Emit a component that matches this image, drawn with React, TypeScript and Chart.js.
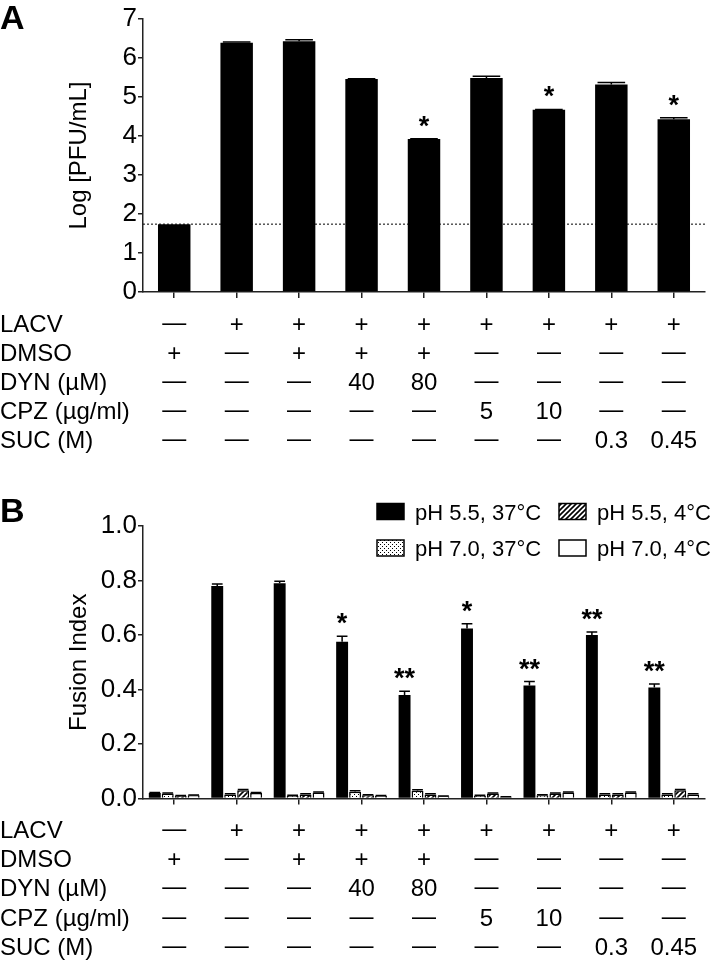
import React, { useEffect, useRef } from "react";
import { Chart, registerables } from "chart.js";

Chart.register(...registerables);

// ---------- data ----------
const categories = [
  "Mock+DMSO",
  "LACV",
  "LACV+DMSO",
  "LACV+DYN40",
  "LACV+DYN80",
  "LACV+CPZ5",
  "LACV+CPZ10",
  "LACV+SUC0.3",
  "LACV+SUC0.45",
];

// Panel A: Log [PFU/mL]
const pfuValues = [1.74, 6.39, 6.43, 5.46, 3.92, 5.49, 4.67, 5.32, 4.43];
const pfuErrors = [0, 0.02, 0.04, 0.01, 0.01, 0.04, 0.01, 0.05, 0.04];
const pfuStars = ["", "", "", "", "*", "", "*", "", "*"];
const detectionLimit = 1.74;
const pfuTicks = [0, 1, 2, 3, 4, 5, 6, 7];

// Panel B: Fusion Index
const fusionSeriesNames = ["pH 5.5, 37°C", "pH 7.0, 37°C", "pH 5.5, 4°C", "pH 7.0, 4°C"];
const fusion55at37 = [0.02, 0.78, 0.79, 0.575, 0.38, 0.624, 0.415, 0.6, 0.407];
const fusion55at37Err = [0.002, 0.007, 0.007, 0.02, 0.014, 0.017, 0.014, 0.011, 0.013];
const fusion70at37 = [0.018, 0.015, 0.01, 0.025, 0.028, 0.01, 0.012, 0.015, 0.015];
const fusion70at37Err = [0.002, 0.002, 0.002, 0.003, 0.004, 0.002, 0.002, 0.002, 0.002];
const fusion55at4 = [0.01, 0.03, 0.015, 0.012, 0.015, 0.018, 0.018, 0.015, 0.03];
const fusion55at4Err = [0.001, 0.003, 0.002, 0.002, 0.002, 0.002, 0.002, 0.002, 0.003];
const fusion70at4 = [0.012, 0.02, 0.022, 0.01, 0.008, 0.005, 0.022, 0.022, 0.015];
const fusion70at4Err = [0.001, 0.002, 0.002, 0.001, 0.001, 0.001, 0.002, 0.002, 0.002];
const fusionStars = ["", "", "", "*", "**", "*", "**", "**", "**"];
const fusionTicks = [0, 0.2, 0.4, 0.6, 0.8, 1.0];

// Treatment table (shared by both panels)
const tableRowLabels = ["LACV", "DMSO", "DYN (µM)", "CPZ (µg/ml)", "SUC (M)"];
const rowLACV = ["—", "+", "+", "+", "+", "+", "+", "+", "+"];
const rowDMSO = ["+", "—", "+", "+", "+", "—", "—", "—", "—"];
const rowDYN = ["—", "—", "—", "40", "80", "—", "—", "—", "—"];
const rowCPZ = ["—", "—", "—", "—", "—", "5", "10", "—", "—"];
const rowSUC = ["—", "—", "—", "—", "—", "—", "—", "0.3", "0.45"];
const tableRows = [rowLACV, rowDMSO, rowDYN, rowCPZ, rowSUC];

// ---------- styling ----------
const FONT = "'Liberation Sans', Arial, Helvetica, sans-serif";
const AXIS_COLOR = "#222";

function makeDotPattern(): CanvasPattern | string {
  const c = document.createElement("canvas");
  c.width = 4;
  c.height = 4;
  const g = c.getContext("2d");
  if (!g) return "#ccc";
  g.fillStyle = "#fff";
  g.fillRect(0, 0, 4, 4);
  g.fillStyle = "#000";
  g.fillRect(0, 0, 1, 1);
  g.fillRect(2, 2, 1, 1);
  return g.createPattern(c, "repeat") || "#ccc";
}

function makeHatchPattern(): CanvasPattern | string {
  const s = 5;
  const c = document.createElement("canvas");
  c.width = s;
  c.height = s;
  const g = c.getContext("2d");
  if (!g) return "#888";
  g.fillStyle = "#fff";
  g.fillRect(0, 0, s, s);
  g.strokeStyle = "#000";
  g.lineWidth = 1.6;
  g.beginPath();
  g.moveTo(-1, s + 1);
  g.lineTo(s + 1, -1);
  g.moveTo(-1, 1);
  g.lineTo(1, -1);
  g.moveTo(s - 1, s + 1);
  g.lineTo(s + 1, s - 1);
  g.stroke();
  return g.createPattern(c, "repeat") || "#888";
}

function drawTable(chart: any, offsets: number[]) {
  const ctx = chart.ctx as CanvasRenderingContext2D;
  const xs = chart.scales.x;
  const base = chart.chartArea.bottom;
  ctx.save();
  ctx.fillStyle = "#000";
  ctx.font = `24px ${FONT}`;
  ctx.textBaseline = "alphabetic";
  tableRowLabels.forEach((lab, r) => {
    const y = base + offsets[r];
    ctx.textAlign = "left";
    ctx.fillText(lab, 0, y);
    ctx.textAlign = "center";
    tableRows[r].forEach((v, i) => {
      const x = xs.getPixelForValue(i);
      ctx.fillText(v, x, v === "—" ? y - 2 : y);
    });
  });
  ctx.restore();
}

function drawErrorBars(chart: any, errs: number[][], capRatio: number) {
  const ctx = chart.ctx as CanvasRenderingContext2D;
  const ys = chart.scales.y;
  ctx.save();
  ctx.strokeStyle = "#000";
  ctx.lineWidth = 1.5;
  errs.forEach((errArr, d) => {
    const meta = chart.getDatasetMeta(d);
    const vals = chart.data.datasets[d].data as number[];
    meta.data.forEach((bar: any, i: number) => {
      const e = errArr[i];
      if (!e) return;
      const yTop = ys.getPixelForValue(vals[i] + e);
      const yv = ys.getPixelForValue(vals[i]);
      const half = (bar.width * capRatio) / 2;
      ctx.beginPath();
      ctx.moveTo(bar.x, yv);
      ctx.lineTo(bar.x, yTop);
      ctx.moveTo(bar.x - half, yTop);
      ctx.lineTo(bar.x + half, yTop);
      ctx.stroke();
    });
  });
  ctx.restore();
}

function drawStars(chart: any, stars: string[], errs: number[]) {
  const ctx = chart.ctx as CanvasRenderingContext2D;
  const ys = chart.scales.y;
  const meta = chart.getDatasetMeta(0);
  const vals = chart.data.datasets[0].data as number[];
  ctx.save();
  ctx.fillStyle = "#000";
  ctx.font = `bold 27px ${FONT}`;
  ctx.textAlign = "center";
  ctx.textBaseline = "alphabetic";
  meta.data.forEach((bar: any, i: number) => {
    if (!stars[i]) return;
    const yTop = ys.getPixelForValue(vals[i] + (errs[i] || 0));
    ctx.fillText(stars[i], bar.x, yTop - 4);
  });
  ctx.restore();
}

function drawYTitle(chart: any, text: string) {
  const ctx = chart.ctx as CanvasRenderingContext2D;
  const { top, bottom } = chart.chartArea;
  ctx.save();
  ctx.fillStyle = "#000";
  ctx.font = `24px ${FONT}`;
  ctx.textAlign = "center";
  ctx.textBaseline = "alphabetic";
  ctx.translate(86, (top + bottom) / 2);
  ctx.rotate(-Math.PI / 2);
  ctx.fillText(text, 0, 0);
  ctx.restore();
}

function drawPanelLetter(chart: any, letter: string, y: number) {
  const ctx = chart.ctx as CanvasRenderingContext2D;
  ctx.save();
  ctx.fillStyle = "#000";
  ctx.font = `bold 34px ${FONT}`;
  ctx.textAlign = "left";
  ctx.textBaseline = "alphabetic";
  ctx.fillText(letter, 0, y);
  ctx.restore();
}

function axisOptions(min: number, max: number, step: number, ticksList: number[], decimals: number, yAxisWidth: number, xAxisHeight: number) {
  return {
    x: {
      type: "category" as const,
      offset: true,
      grid: {
        display: true,
        offset: false,
        drawOnChartArea: false,
        drawTicks: true,
        tickLength: 6,
        color: AXIS_COLOR,
        lineWidth: 1.5,
      },
      border: { display: true, color: AXIS_COLOR, width: 1.5 },
      ticks: { display: false },
      afterFit: (s: any) => {
        s.height = xAxisHeight;
      },
    },
    y: {
      min,
      max,
      grid: {
        display: true,
        drawOnChartArea: false,
        drawTicks: true,
        tickLength: 5,
        color: AXIS_COLOR,
        lineWidth: 1.5,
      },
      border: { display: true, color: AXIS_COLOR, width: 1.5 },
      ticks: {
        stepSize: step,
        padding: 1,
        color: "#000",
        font: { family: FONT, size: 26 },
        callback: (v: any) => Number(v).toFixed(decimals),
      },
      afterBuildTicks: (s: any) => {
        s.ticks = ticksList.map((v) => ({ value: v }));
      },
      afterFit: (s: any) => {
        s.width = yAxisWidth;
      },
    },
  };
}

const TABLE_OFFSETS = [39.5, 68.7, 97.9, 127.1, 156.3];

export default function App() {
  const refA = useRef<HTMLCanvasElement | null>(null);
  const refB = useRef<HTMLCanvasElement | null>(null);

  useEffect(() => {
    if (!refA.current || !refB.current) return;
    const dots = makeDotPattern();
    const hatch = makeHatchPattern();

    const chartA = new Chart(refA.current, {
      type: "bar",
      data: {
        labels: categories,
        datasets: [
          {
            label: "Log [PFU/mL]",
            data: pfuValues,
            backgroundColor: "#000",
            borderWidth: 0,
            barPercentage: 0.52,
            categoryPercentage: 1,
          },
        ],
      },
      options: {
        responsive: false,
        animation: false,
        devicePixelRatio: 1,
        layout: { padding: { left: 0, right: 15, top: 19, bottom: 0 } },
        plugins: { legend: { display: false }, tooltip: { enabled: false } },
        scales: axisOptions(0, 7, 1, pfuTicks, 0, 143, 168) as any,
      },
      plugins: [
        {
          id: "panelA",
          beforeDatasetsDraw: (chart: any) => {
            const ctx = chart.ctx as CanvasRenderingContext2D;
            const y = chart.scales.y.getPixelForValue(detectionLimit);
            ctx.save();
            ctx.strokeStyle = "#000";
            ctx.lineWidth = 1;
            ctx.setLineDash([2, 2]);
            ctx.beginPath();
            ctx.moveTo(chart.chartArea.left, y);
            ctx.lineTo(chart.chartArea.right, y);
            ctx.stroke();
            ctx.restore();
          },
          afterDatasetsDraw: (chart: any) => {
            drawErrorBars(chart, [pfuErrors], 0.85);
            drawStars(chart, pfuStars, pfuErrors);
          },
          afterDraw: (chart: any) => {
            drawTable(chart, TABLE_OFFSETS);
            drawYTitle(chart, "Log [PFU/mL]");
            drawPanelLetter(chart, "A", 29);
          },
        },
      ],
    });

    const fills = ["#000", dots, hatch, "#fff"];
    const series = [fusion55at37, fusion70at37, fusion55at4, fusion70at4];
    const seriesErr = [fusion55at37Err, fusion70at37Err, fusion55at4Err, fusion70at4Err];

    const chartB = new Chart(refB.current, {
      type: "bar",
      data: {
        labels: categories,
        datasets: series.map((d, k) => ({
          label: fusionSeriesNames[k],
          data: d,
          backgroundColor: fills[k] as any,
          borderColor: "#000",
          borderWidth: k === 0 ? 0 : 1.5,
          barPercentage: 0.92,
          categoryPercentage: 0.83,
        })),
      },
      options: {
        responsive: false,
        animation: false,
        devicePixelRatio: 1,
        layout: { padding: { left: 0, right: 15, top: 66, bottom: 0 } },
        plugins: { legend: { display: false }, tooltip: { enabled: false } },
        scales: axisOptions(0, 1, 0.2, fusionTicks, 1, 143, 161.5) as any,
      },
      plugins: [
        {
          id: "panelB",
          afterDatasetsDraw: (chart: any) => {
            drawErrorBars(chart, seriesErr, 0.9);
            drawStars(chart, fusionStars, fusion55at37Err);
          },
          afterDraw: (chart: any) => {
            drawTable(chart, TABLE_OFFSETS);
            drawYTitle(chart, "Fusion Index");
            drawPanelLetter(chart, "B", 62);
            // legend: two columns, two rows
            const ctx = chart.ctx as CanvasRenderingContext2D;
            const swX = [377, 559];
            const txX = [415, 597];
            const rowY = [51.5, 88];
            ctx.save();
            chart.data.datasets.forEach((ds: any, d: number) => {
              const col = Math.floor(d / 2);
              const row = d % 2;
              const cy = rowY[row];
              ctx.fillStyle = ds.backgroundColor;
              ctx.fillRect(swX[col], cy - 8, 27, 16);
              ctx.strokeStyle = "#000";
              ctx.lineWidth = 1.5;
              ctx.strokeRect(swX[col], cy - 8, 27, 16);
              ctx.fillStyle = "#000";
              ctx.font = `22px ${FONT}`;
              ctx.textAlign = "left";
              ctx.textBaseline = "alphabetic";
              ctx.fillText(ds.label, txX[col], cy + 8);
            });
            ctx.restore();
          },
        },
      ],
    });

    return () => {
      chartA.destroy();
      chartB.destroy();
    };
  }, []);

  return (
    <div style={{ position: "absolute", left: 0, top: 0, width: 720, height: 960, background: "#fff" }}>
      <canvas ref={refA} width={720} height={460} style={{ display: "block", width: 720, height: 460 }} />
      <canvas ref={refB} width={720} height={500} style={{ display: "block", width: 720, height: 500 }} />
    </div>
  );
}
